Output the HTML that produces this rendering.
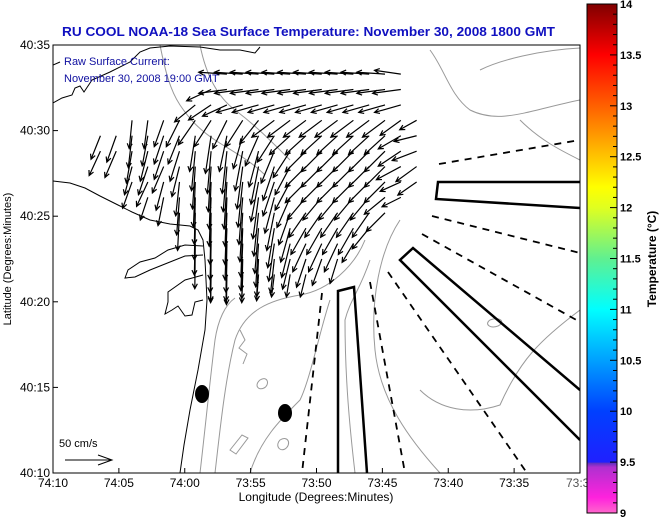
<!DOCTYPE html>
<html><head><meta charset="utf-8">
<style>
html,body{margin:0;padding:0;background:#fff;}
svg{display:block;font-family:"Liberation Sans",sans-serif;}
</style></head>
<body>
<svg id="chart" width="660" height="519" viewBox="0 0 660 519" xmlns="http://www.w3.org/2000/svg">
<defs>
<linearGradient id="cb" x1="0" y1="1" x2="0" y2="0">
<stop offset="0" stop-color="#ff66cc"/>
<stop offset="0.03" stop-color="#ff22dd"/>
<stop offset="0.09" stop-color="#b030d0"/>
<stop offset="0.098" stop-color="#6030c0"/>
<stop offset="0.1" stop-color="#2020ff"/>
<stop offset="0.2" stop-color="#0040ff"/>
<stop offset="0.3" stop-color="#00a0ff"/>
<stop offset="0.4" stop-color="#00ffff"/>
<stop offset="0.5" stop-color="#60f090"/>
<stop offset="0.6" stop-color="#e0ff20"/>
<stop offset="0.64" stop-color="#ffff00"/>
<stop offset="0.72" stop-color="#ffb000"/>
<stop offset="0.8" stop-color="#ff6000"/>
<stop offset="0.9" stop-color="#ff0000"/>
<stop offset="1" stop-color="#800000"/>
</linearGradient>
<clipPath id="plotclip"><rect x="53" y="45" width="527" height="428"/></clipPath>
</defs>

<text x="62" y="36" textLength="493" lengthAdjust="spacingAndGlyphs" font-size="13" font-weight="bold" fill="#1010c0">RU COOL  NOAA-18  Sea Surface Temperature:  November 30, 2008 1800 GMT</text>

<g clip-path="url(#plotclip)">
<g fill="none" stroke="#999" stroke-width="1">
<path d="M160,45 C165,70 170,90 180,105 C190,120 200,130 215,140 C230,150 250,160 265,175"/>
<path d="M200,45 C205,70 215,95 235,110 C255,125 270,140 290,160"/>
<path d="M215,473 C220,430 225,380 235,340 C245,310 270,300 300,295 C330,290 355,265 365,240"/>
<path d="M200,473 C205,430 210,380 215,340 C218,320 225,305 235,298"/>
<path d="M250,473 C260,440 280,420 300,400 C310,380 320,330 330,300"/>
<path d="M355,473 C350,430 345,380 345,320 C350,300 360,290 370,260"/>
<path d="M440,473 C410,440 380,400 375,350 C370,300 380,250 400,220"/>
<path d="M580,310 C540,340 520,360 500,405 C470,415 440,410 420,390"/>
<path d="M430,50 C445,70 450,95 470,110 C500,125 530,110 580,100"/>
<path d="M480,70 C500,60 540,50 580,48"/>
<path d="M520,120 C540,140 560,150 580,160"/>
<path d="M240,330 l5,10 l-6,8 l8,6 l-4,10"/>
<path d="M260,380 c8,-5 10,5 4,8 c-6,3 -10,-3 -4,-8z"/>
<path d="M280,440 c8,-5 12,4 5,9 c-6,3 -10,-4 -5,-9z"/>
<path d="M230,450 l12,-15 l6,3 l-12,16z"/>
<path d="M490,320 c10,-4 16,2 8,6 c-8,3 -14,-2 -8,-6z"/>
</g>
<g fill="none" stroke="#000" stroke-width="1">
<path d="M53,181 L70,183 L85,188 L100,196 L118,205 L132,212 L150,220 L170,224 L190,226 L198,230 L203,240 L205,260 L207,300 L205,330 L198,370 L190,410 L184,445 L180,473"/>
<path d="M203,246 L185,245 L168,250 L155,258 L140,262 L128,270 L125,278 L135,277 L150,270 L170,262 L185,256 L203,255"/>
<path d="M203,275 L185,280 L168,292 L168,302 L165,314 L172,310 L178,306 L185,316 L192,315 L195,302 L203,300"/>
<path d="M53,103 L62,98 L72,95 L75,88 L80,86 L84,92 L92,80 L110,72 L130,62 L140,52 L150,48 L170,46 L200,47 L220,50 L240,50 L255,53 L260,47"/>
<path d="M53,65 L60,62"/>
</g>
<g fill="none" stroke="#000">
<path stroke-width="2.5" d="M580,182 L438,182 L436,199 L580,208"/>
<path stroke-width="2.5" d="M580,390 L413,248 L400,260 L580,440"/>
<path stroke-width="2.5" d="M338,473 L338,291 L354,287 L367,473"/>
<g stroke-width="1.8" stroke-dasharray="7,6">
<path d="M439,164 L580,140"/>
<path d="M432,216 L580,253"/>
<path d="M422,234 L580,322"/>
<path d="M388,272 L527,473"/>
<path d="M370,282 L405,473"/>
<path d="M322,293 L302,473"/>
</g>
</g>
<ellipse cx="202" cy="394" rx="7" ry="9" fill="#000"/>
<ellipse cx="285" cy="413" rx="7" ry="9" fill="#000"/>
<g id="arrows" stroke="#000" stroke-width="1.2" fill="none"></g>
</g>

<rect x="53" y="45" width="527" height="428" fill="none" stroke="#000" stroke-width="1"/>
<g id="xticks" font-size="12" fill="#000"></g>
<g id="yticks" font-size="12" fill="#000"></g>
<text x="316" y="501" text-anchor="middle" font-size="12">Longitude (Degrees:Minutes)</text>
<text transform="translate(11,259) rotate(-90)" text-anchor="middle" font-size="11">Latitude (Degrees:Minutes)</text>

<text x="64" y="65" font-size="11" fill="#1010a0">Raw Surface Current:</text>
<text x="64" y="82" font-size="11" fill="#1010a0">November 30, 2008 19:00 GMT</text>
<g>
<text x="59" y="447" font-size="11">50 cm/s</text>
<path d="M65,460 L112,460 M98,455 L112,460 L98,465" stroke="#000" fill="none"/>
</g>

<rect x="587" y="4" width="30" height="509" fill="url(#cb)" stroke="#000" stroke-width="1"/>
<g id="cbticks" font-size="11" font-weight="bold"></g>
<text transform="translate(656,259) rotate(-90)" text-anchor="middle" font-size="12" font-weight="bold">Temperature (°C)</text>
</svg>
<script>
// Axis data
const xTickLabels = ["74:10","74:05","74:00","73:55","73:50","73:45","73:40","73:35","73:3"];
const xTickMinutes = [0,5,10,15,20,25,30,35,40];
const yTickLabels = ["40:10","40:15","40:20","40:25","40:30","40:35"];
const yTickMinutes = [0,5,10,15,20,25];
const cbValues = [9,9.5,10,10.5,11,11.5,12,12.5,13,13.5,14];
const cbLabels = ["9","9.5","10","10.5","11","11.5","12","12.5","13","13.5","14"];

// Vector grid: lon minutes east of 74:10, lat minutes north of 40:10
const gridLon = [3.6,4.8,6.0,7.2,8.4,9.6,10.8,12.0,13.2,14.4,15.6,16.8,18.0,19.2,20.4,21.6,22.8,24.0,25.2,26.4,27.6,28.8];
const gridLat = [23.3,22.4,21.5,20.6,19.7,18.8,17.9,17.0,16.1,15.2,14.3,13.4,12.5,11.6];
// u (east, cm/s) per row
const uRows = [
[0,0,0,0,0,0,0,0,-30,-30,-30,-30,-30,-30,-30,-30,-30,-30,-30,-28,0,0],
[0,0,0,0,0,0,0,-26,-30,-30,-30,-30,-30,-30,-30,-30,-30,-30,-30,-30,0,0],
[0,0,0,0,0,0,-22,-24,-26,-28,-28,-28,-28,-28,-28,-28,-28,-28,-28,-28,0,0],
[0,0,-3,-4,-10,-14,-18,-18,-15,-18,-20,-24,-24,-24,-24,-24,-24,-24,-24,-22,-18,0],
[-10,-10,-4,-6,-10,-12,-6,-6,-8,-10,-14,-18,-22,-22,-22,-22,-22,-22,-22,-24,-24,0],
[-12,-12,-6,-8,-10,-10,-4,-4,-5,-8,-10,-14,-18,-22,-22,-22,-22,-22,-22,-24,-26,0],
[0,0,-8,-10,-12,-8,-3,-3,-4,-6,-8,-12,-16,-22,-22,-22,-22,-22,-22,-26,-22,0],
[0,0,-10,-12,-8,-4,-2,-2,-3,-5,-8,-12,-16,-22,-22,-22,-22,-22,-22,-22,-20,0],
[0,0,0,-8,-6,-3,-1,-2,-2,-4,-6,-10,-14,-20,-20,-20,-20,-20,-22,-20,0,0],
[0,0,0,0,0,-2,-1,-1,-2,-3,-5,-8,-12,-18,-18,-18,-18,-18,-20,0,0,0],
[0,0,0,0,0,0,-1,-1,-2,-2,-4,-7,-10,-16,-16,-16,-16,-18,0,0,0,0],
[0,0,0,0,0,0,-0.5,-1,-1,-2,-3,-6,-9,-14,-14,-14,-12,0,0,0,0,0],
[0,0,0,0,0,0,0,-0.5,-1,-1,-2,-4,-8,-10,-10,-8,0,0,0,0,0,0],
[0,0,0,0,0,0,0,-0.5,-0.5,-1,-2,-3,-4,-6,0,0,0,0,0,0,0,0]
];
// v (north, cm/s) per row
const vRows = [
[0,0,0,0,0,0,0,0,2,2,2,2,2,2,2,2,2,2,2,4,0,0],
[0,0,0,0,0,0,0,-12,-4,-4,-4,-4,-4,-4,-4,-4,-4,-4,-4,-4,0,0],
[0,0,0,0,0,0,-18,-16,-12,-8,-8,-8,-8,-8,-8,-8,-8,-8,-8,-8,0,0],
[0,0,-30,-30,-28,-28,-26,-28,-30,-28,-25,-18,-18,-18,-18,-18,-18,-18,-18,-16,-10,0],
[-25,-28,-34,-32,-30,-30,-38,-40,-38,-35,-32,-28,-20,-20,-20,-20,-20,-20,-20,-14,-6,0],
[-26,-28,-34,-32,-30,-32,-42,-45,-45,-42,-38,-34,-28,-22,-22,-22,-22,-22,-22,-16,-10,0],
[0,0,-30,-30,-28,-32,-45,-48,-48,-45,-40,-36,-30,-22,-22,-22,-22,-22,-22,-14,-16,0],
[0,0,-28,-26,-30,-36,-48,-50,-50,-48,-42,-36,-30,-22,-22,-22,-22,-22,-22,-10,-14,0],
[0,0,0,-24,-30,-40,-50,-52,-52,-50,-44,-38,-32,-24,-24,-24,-24,-24,-18,-10,0,0],
[0,0,0,0,0,-40,-50,-55,-55,-52,-46,-40,-34,-26,-26,-26,-26,-26,-20,0,0,0],
[0,0,0,0,0,0,-50,-55,-55,-52,-48,-42,-36,-28,-28,-28,-28,-22,0,0,0,0],
[0,0,0,0,0,0,-48,-52,-52,-50,-46,-40,-36,-30,-30,-30,-20,0,0,0,0,0],
[0,0,0,0,0,0,0,-45,-45,-42,-40,-36,-32,-30,-28,-26,0,0,0,0,0,0],
[0,0,0,0,0,0,0,-30,-32,-30,-28,-24,-24,-24,0,0,0,0,0,0,0,0]
];

const X0=53, X1=580, Y0=473, Y1=45;
function xScale(m){ return X0 + m*(X1-X0)/40; }
function yScale(m){ return Y0 - m*(Y0-Y1)/25; }
const pxPerCm = 47/50;
function cbScale(t){ return 513 - (t-9)*(509/5); }
const NS="http://www.w3.org/2000/svg";

const xg=document.getElementById('xticks');
xTickMinutes.forEach((m,i)=>{
  const x=xScale(m);
  const t=document.createElementNS(NS,'line');
  t.setAttribute('x1',x);t.setAttribute('x2',x);t.setAttribute('y1',473);t.setAttribute('y2',468);t.setAttribute('stroke','#000');
  
  
  xg.appendChild(t);
  const l=document.createElementNS(NS,'text');
  l.setAttribute('x',i===8?x-14:x);l.setAttribute('y',487);l.setAttribute('text-anchor',i===8?'start':'middle');
  if(i===8) l.setAttribute('fill','#555');
  l.textContent=xTickLabels[i];
  
  
  xg.appendChild(l);
});
const yg=document.getElementById('yticks');
yTickMinutes.forEach((m,i)=>{
  const y=yScale(m);
  const t=document.createElementNS(NS,'line');
  t.setAttribute('x1',53);t.setAttribute('x2',58);t.setAttribute('y1',y);t.setAttribute('y2',y);t.setAttribute('stroke','#000');
  
  
  yg.appendChild(t);
  const l=document.createElementNS(NS,'text');
  l.setAttribute('x',50);l.setAttribute('y',y+4);l.setAttribute('text-anchor','end');
  l.textContent=yTickLabels[i];
  
  
  yg.appendChild(l);
});
const cg=document.getElementById('cbticks');
for(let k=0;k<=50;k++){
  const tv=9+k*0.1; const y=cbScale(tv);
  const t=document.createElementNS(NS,'line');
  const major=(k%5===0);
  t.setAttribute('x1',617);t.setAttribute('x2',major?610:613);t.setAttribute('y1',y);t.setAttribute('y2',y);t.setAttribute('stroke','#000');
  
  
  cg.appendChild(t);
}
cbValues.forEach((v,i)=>{
  const l=document.createElementNS(NS,'text');
  l.setAttribute('x',620);l.setAttribute('y',cbScale(v)+4);
  l.textContent=cbLabels[i];
  
  
  cg.appendChild(l);
});

const ag=document.getElementById('arrows');
gridLat.forEach((lat,r)=>{
  gridLon.forEach((lon,c)=>{
    const u=uRows[r][c], v=vRows[r][c];
    if(u===0 && v===0) return;
    const x=xScale(lon), y=yScale(lat);
    const dx=u*pxPerCm, dy=-v*pxPerCm;
    const x2=x+dx, y2=y+dy;
    const len=Math.hypot(dx,dy), ux=dx/len, uy=dy/len;
    const h=5, w=2.5;
    const p=document.createElementNS(NS,'path');
    const bx=x2-ux*h, by=y2-uy*h;
    p.setAttribute('d',`M${x},${y}L${x2},${y2}M${bx-uy*w},${by+ux*w}L${x2},${y2}L${bx+uy*w},${by-ux*w}`);
    
    
    ag.appendChild(p);
  });
});
</script>
</body></html>
